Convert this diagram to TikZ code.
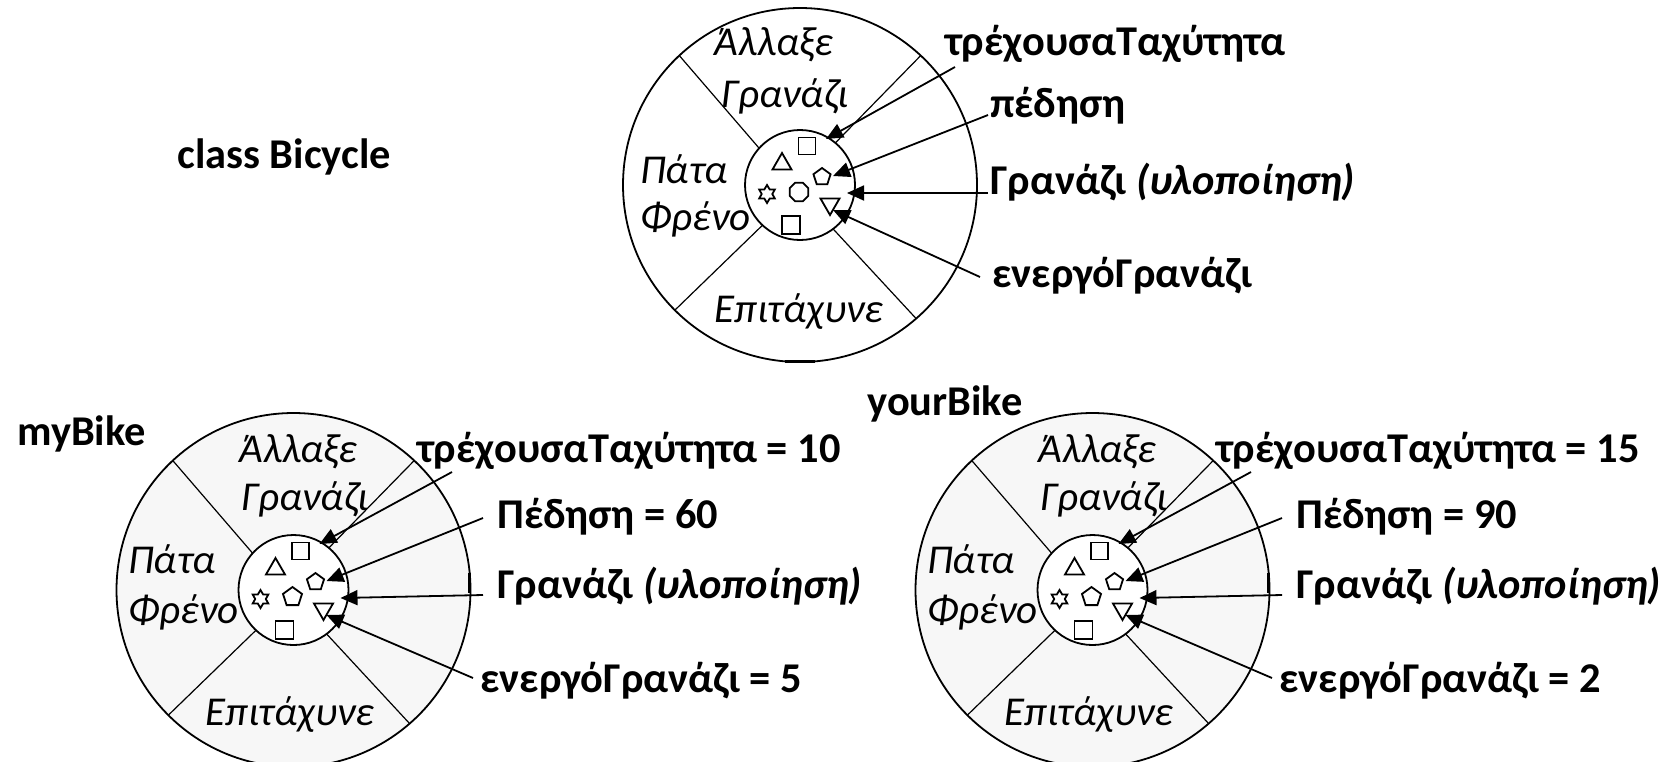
\documentclass[tikz,border=0pt]{standalone}
\usepackage{fontspec}
\setmainfont{Carlito}
\usetikzlibrary{arrows.meta,shapes.geometric,calc}

\tikzset{
  wheel/.style={draw=black, line width=0.9pt},
  spoke/.style={draw=black, line width=0.6pt},
  glyph/.style={draw=black, line width=0.9pt, inner sep=0pt, fill=white},
  pointer/.style={draw=black, line width=0.9pt, -{Triangle[length=8.5pt,width=7.5pt]}},
  member/.style={font=\fontsize{21.2}{25}\selectfont\bfseries, anchor=base west, inner sep=0pt},
  method/.style={font=\fontsize{20.5}{24}\selectfont\itshape, anchor=base, inner sep=0pt},
  methodw/.style={method, anchor=base west},
}

% One wheel: outer ring (fill #1), four spokes, inner core with the
% little data glyphs, and the four arrow tips (t1..t4).
% #2 = style of the glyph in the middle of the core.
\newcommand\wheelbody[2]{%
  \draw[wheel, fill=#1] (0,0) circle[radius=177];
  \draw[spoke] (-138:55) -- (-133:177);
  \draw[spoke] (-50:55) -- (-47:177);
  \draw[spoke] (133:55) -- (135:177);
  \draw[spoke] (53:55) -- (49:177);
  \draw[wheel, fill=white] (0,0) circle[radius=55];
  \node[glyph, rectangle, minimum size=8.5pt] (sqa) at (7,-39) {};
  \node[glyph, regular polygon, regular polygon sides=3, minimum size=11pt] (tri) at (-18,-21) {};
  \node[glyph, regular polygon, regular polygon sides=5, minimum size=9pt] (penta) at (22,-8) {};
  \node[glyph, star, star points=6, star point ratio=1.7, minimum size=9pt] (hexa) at (-33,9) {};
  \node[glyph, #2] (mid) at (-1,7) {};
  \node[glyph, regular polygon, regular polygon sides=3, shape border rotate=180, minimum size=11pt] (itri) at (30,19) {};
  \node[glyph, rectangle, minimum size=9pt] (sqb) at (-9,40) {};
  \coordinate (t1) at (26,-46);
  \coordinate (t2) at (33,-9);
  \coordinate (t3) at (47,8);
  \coordinate (t4) at (33,25);
}

% Object wheel with the four labelled fields.
\newcommand\objectwheel[3]{%
  \wheelbody{black!3}{regular polygon, regular polygon sides=5, minimum size=10pt}
  \draw[line width=1.3pt] (176,-17) -- (176,3);
  \node[method] (m1) at (5,-128) {Άλλαξε};
  \node[method] (m2) at (11.5,-80) {Γρανάζι};
  \node[methodw] (m3) at (-165.5,-17) {Πάτα};
  \node[methodw] (m4) at (-165.5,33) {Φρένο};
  \node[method] (m5) at (-3.5,135) {Επιτάχυνε};
  \node[member] (l1) at (123.5,-128) {τρέχουσαΤαχύτητα = #1};
  \node[member] (l2) at (203.5,-62) {Πέδηση = #2};
  \node[member] (l3) at (203.5,8) {Γρανάζι \textit{(υλοποίηση)}};
  \node[member] (l4) at (186.5,102) {ενεργόΓρανάζι = #3};
  \coordinate (a1) at ([shift={(35,10)}]l1.base west);
  \coordinate (a2) at ([shift={(-14,-10)}]l2.base west);
  \coordinate (a3) at ([shift={(-14,-3)}]l3.base west);
  \coordinate (a4) at ([shift={(-7,-14)}]l4.base west);
  \draw[pointer] (a1) -- (t1);
  \draw[pointer] (a2) -- (t2);
  \draw[pointer] (a3) -- (t3);
  \draw[pointer] (a4) -- (t4);
}

\begin{document}
\begin{tikzpicture}[x=0.5pt, y=-0.5pt]
\clip (0,0) rectangle (1668,761);
\fill[white] (0,0) rectangle (1668,761);

% ---- the class ----
\node[member] (cls) at (177,168) {class Bicycle};
\begin{scope}[shift={(800,185)}, name prefix=cb-]
  \wheelbody{white}{regular polygon, regular polygon sides=8, minimum size=10pt}
  \draw[line width=1.6pt] (-15,176.5) -- (15,176.5);
  \node[method] (m1) at (-26,-130) {Άλλαξε};
  \node[method] (m2) at (-15,-78) {Γρανάζι};
  \node[methodw] (m3) at (-160,-2) {Πάτα};
  \node[methodw] (m4) at (-160,45) {Φρένο};
  \node[method] (m5) at (-1,137) {Επιτάχυνε};
  \node[member] (l1) at (145,-130) {τρέχουσαΤαχύτητα};
  \node[member] (l2) at (190,-68) {πέδηση};
  \node[member] (l3) at (190,9) {Γρανάζι \textit{(υλοποίηση)}};
  \node[member] (l4) at (192,102) {ενεργόΓρανάζι};
  \coordinate (a1) at ([shift={(10,12)}]l1.base west);
  \coordinate (a2) at ([shift={(-2,-2)}]l2.base west);
  \coordinate (a3) at ([shift={(-2,-1)}]l3.base west);
  \coordinate (a4) at ([shift={(-12,-10)}]l4.base west);
  \draw[pointer] (a1) -- (t1);
  \draw[pointer] (a2) -- (t2);
  \draw[pointer] (a3) -- (t3);
  \draw[pointer] (a4) -- (t4);
\end{scope}

% ---- the two objects ----
\node[member] (my) at (17,445) {myBike};
\begin{scope}[shift={(293.5,590)}, name prefix=mb-]
  \objectwheel{10}{60}{5}
\end{scope}

\node[member] (your) at (867,415) {yourBike};
\begin{scope}[shift={(1092.5,590)}, name prefix=yb-]
  \objectwheel{15}{90}{2}
\end{scope}
\end{tikzpicture}
\end{document}
